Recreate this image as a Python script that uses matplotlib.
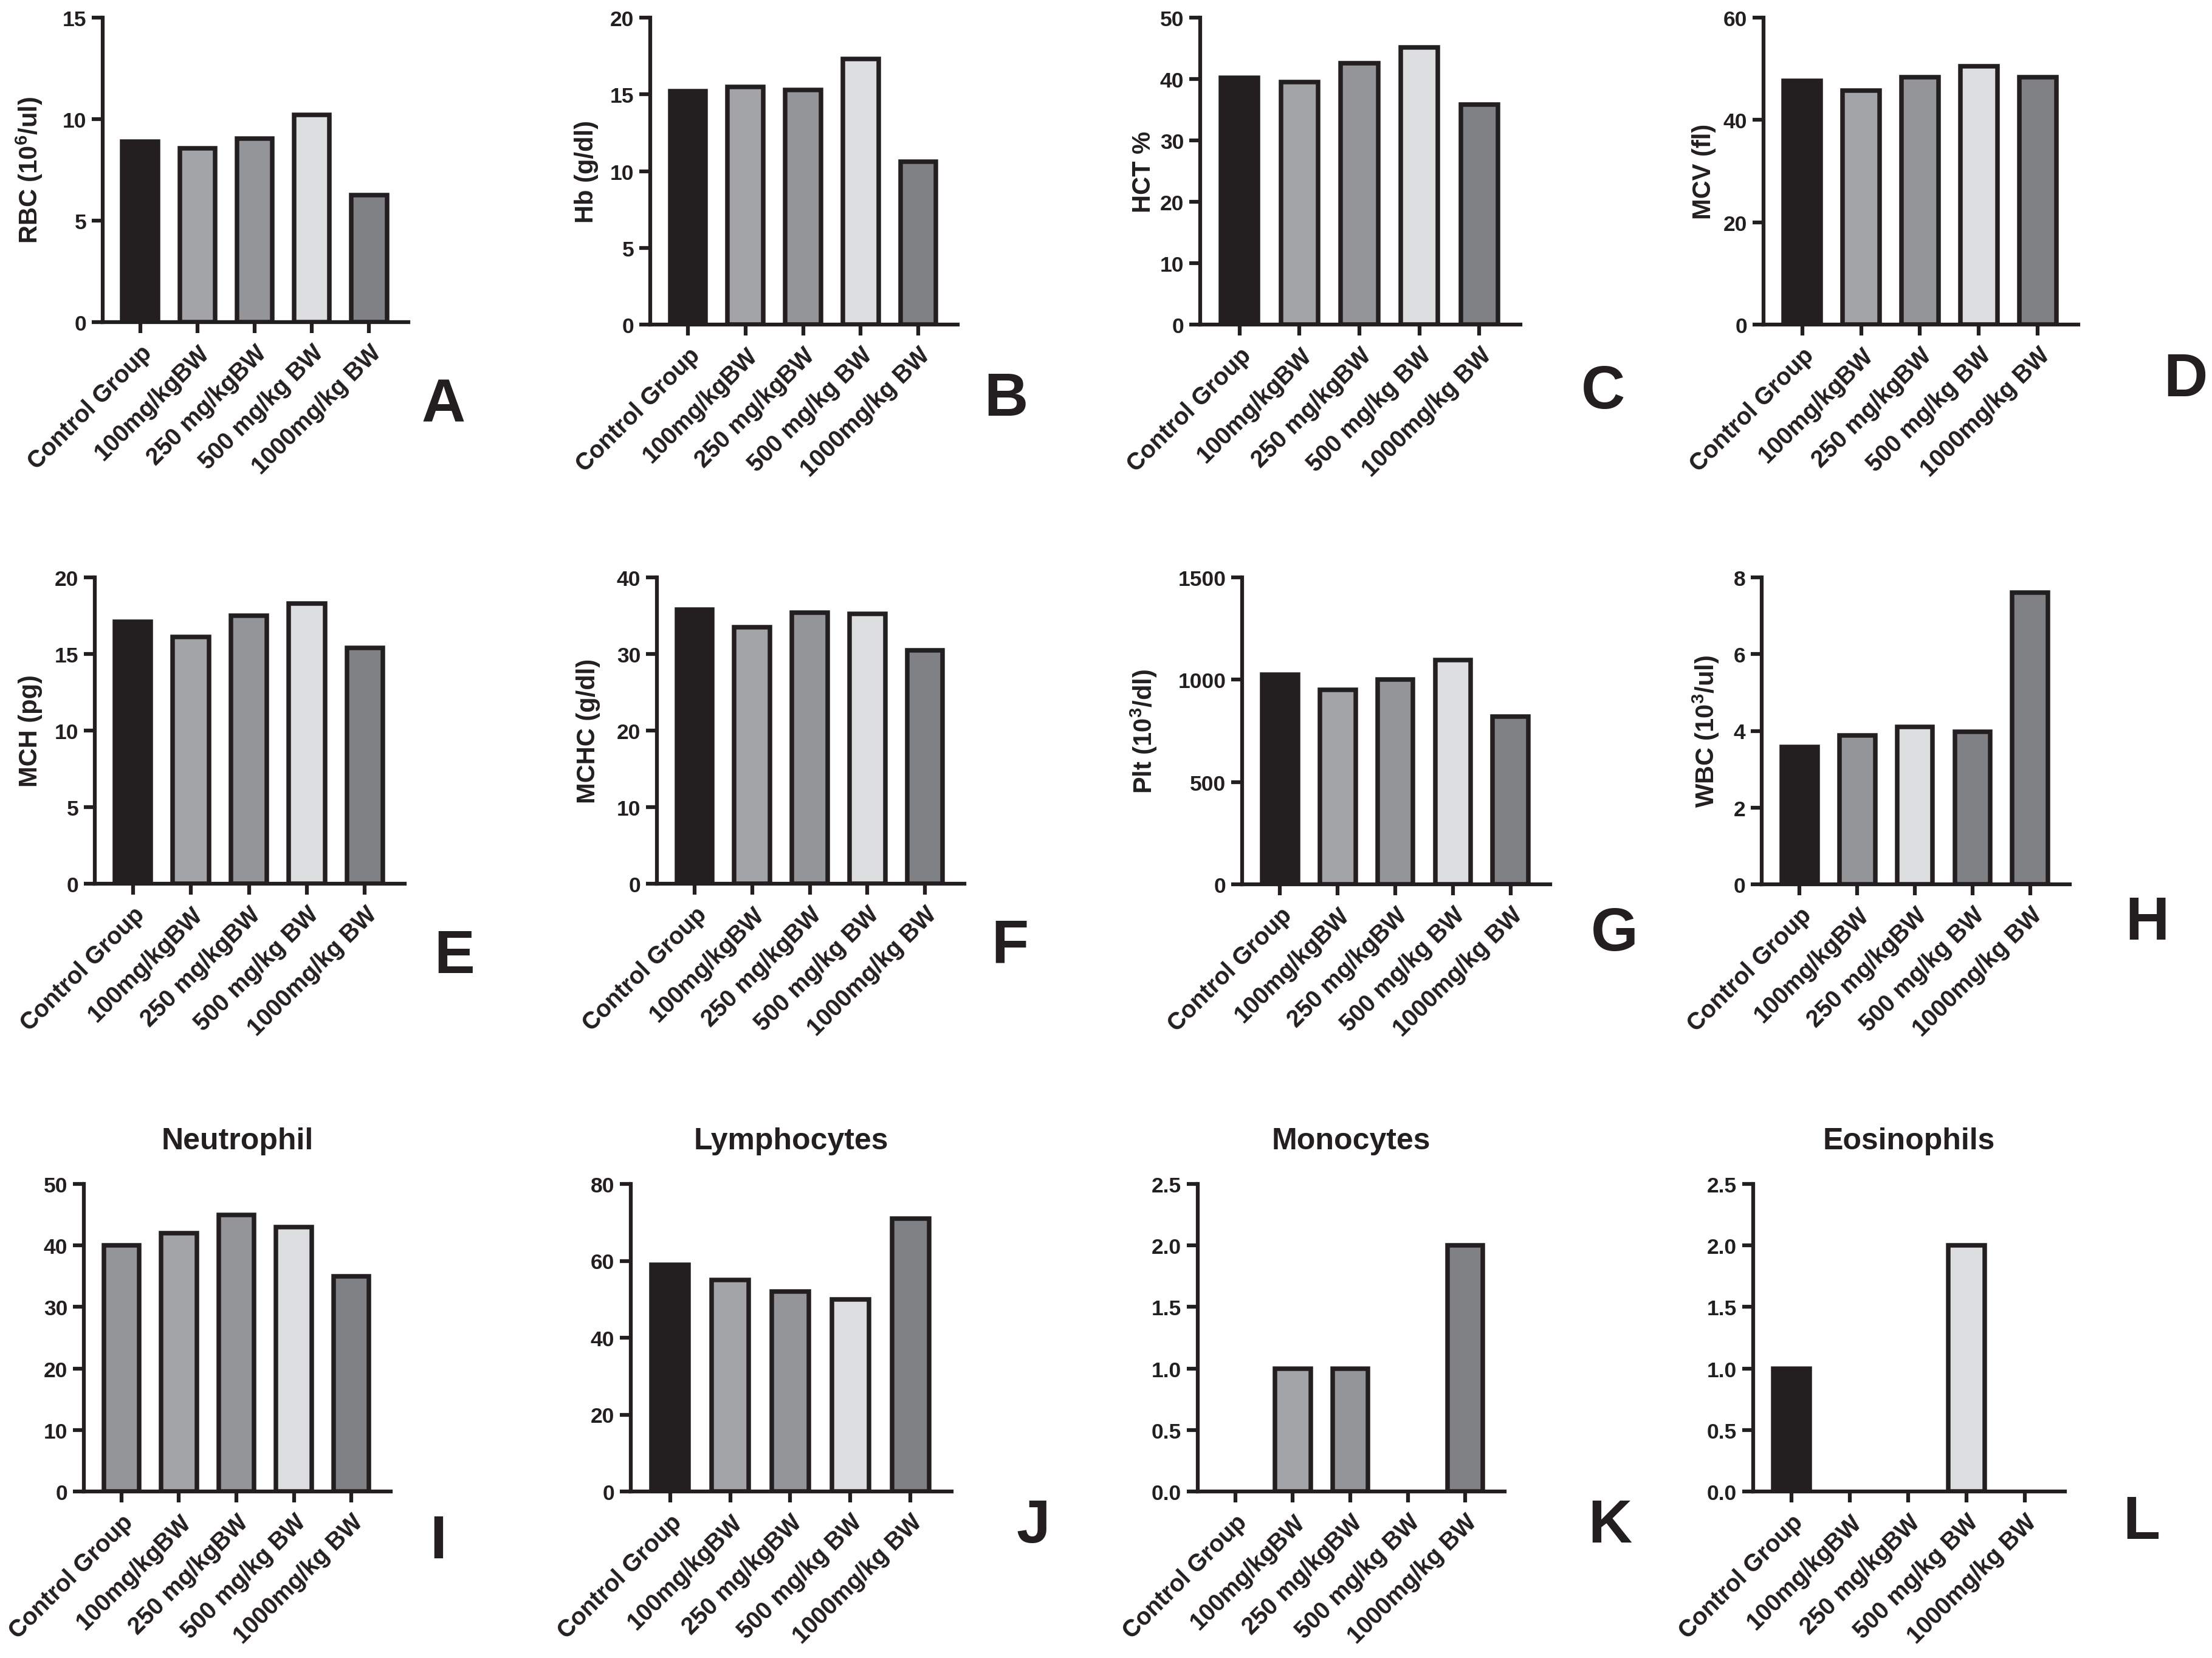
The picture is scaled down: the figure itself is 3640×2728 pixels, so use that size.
import matplotlib.pyplot as plt
from matplotlib.ticker import FormatStrFormatter

plt.rcParams['font.family'] = ['Liberation Sans', 'DejaVu Sans']
plt.rcParams['font.weight'] = 'bold'
plt.rcParams['mathtext.fontset'] = 'custom'
plt.rcParams['mathtext.rm'] = 'Liberation Sans:bold'
plt.rcParams['mathtext.it'] = 'Liberation Sans:bold'
plt.rcParams['mathtext.bf'] = 'Liberation Sans:bold'
plt.rcParams['text.color'] = '#231f20'

# groups (x axis)
groups = ['Control Group', '100mg/kgBW', '250 mg/kgBW', '500 mg/kg BW', '1000mg/kg BW']

# values
rbc = [8.9, 8.55, 9.05, 10.2, 6.25]
hb = [15.2, 15.5, 15.3, 17.3, 10.6]
hct = [40.2, 39.5, 42.6, 45.1, 35.8]
mcv = [47.7, 45.7, 48.3, 50.5, 48.3]
mch = [17.1, 16.1, 17.5, 18.3, 15.4]
mchc = [35.8, 33.5, 35.4, 35.2, 30.5]
plt_count = [1025, 950, 1000, 1095, 820]
wbc = [3.58, 3.88, 4.1, 3.98, 7.6]
neutrophil = [40, 42, 45, 43, 35]
lymphocytes = [59, 55, 52, 50, 71]
monocytes = [0, 1, 1, 0, 2]
eosinophils = [1, 0, 0, 2, 0]

ylabels = ['RBC (10$^6$/ul)', 'Hb (g/dl)', 'HCT %', 'MCV (fl)',
           'MCH (pg)', 'MCHC (g/dl)', 'Plt (10$^3$/dl)', 'WBC (10$^3$/ul)',
           '', '', '', '']
titles = ['', '', '', '', '', '', '', '',
          'Neutrophil', 'Lymphocytes', 'Monocytes', 'Eosinophils']
letters = list('ABCDEFGHIJKL')

# colours
k = '#231f20'
g1 = '#a3a4a7'
g2 = '#939598'
g3 = '#dcdddf'
g4 = '#808184'
std = [k, g1, g2, g3, g4]

W, H = 3640, 2729
fig = plt.figure(figsize=(W / 300, H / 300), dpi=300)

# panel: values, ymax, ystep, colours, axes box (px: left, right, top, bottom), ylabel x, letter pos
panels = [
    (rbc, 15, 5, std, (169, 672, 30, 531), -0.19, (730, 668)),
    (hb, 20, 5, std, (1070, 1576, 30, 535), -0.168, (1655, 658)),
    (hct, 50, 10, std, (1975, 2502, 30, 535), -0.139, (2638, 646)),
    (mcv, 60, 20, std, (2902, 3420, 30, 535), -0.151, (3596, 626)),
    (mch, 20, 5, std, (156, 666, 951, 1455), -0.169, (748, 1575)),
    (mchc, 40, 10, std, (1081, 1587, 951, 1455), -0.184, (1662, 1558)),
    (plt_count, 1500, 500, std, (2044, 2551, 951, 1456), -0.27, (2657, 1538)),
    (wbc, 8, 2, [k, g2, g3, g4, g4], (2899, 3406, 951, 1456), -0.132, (3533, 1520)),
    (neutrophil, 50, 10, [g2, g1, g2, g3, g4], (138, 643, 1949, 2455), 0, (721, 2538)),
    (lymphocytes, 80, 20, std, (1038, 1566, 1949, 2455), 0, (1700, 2512)),
    (monocytes, 2.5, 0.5, std, (1971, 2476, 1949, 2455), 0, (2649, 2512)),
    (eosinophils, 2.5, 0.5, std, (2885, 3398, 1949, 2455), 0, (3524, 2506)),
]

x = list(range(len(groups)))
for i, (vals, ymax, step, cols, box, ylx, lpos) in enumerate(panels):
    l, r, t, b = box
    ax = fig.add_axes([l / W, 1 - b / H, (r - l) / W, (b - t) / H])
    lws = [1.8 if v else 0 for v in vals]  # empty bars show nothing
    ax.bar(x, vals, width=0.62, color=cols, edgecolor=k, linewidth=lws, zorder=3)
    ax.set_xlim(-0.655, 4.686)
    ax.set_ylim(0, ymax)
    n = int(round(ymax / step))
    ax.set_yticks([step * j for j in range(n + 1)])
    if step < 1:
        ax.yaxis.set_major_formatter(FormatStrFormatter('%.1f'))
    ax.set_xticks(x)
    ax.set_xticklabels(groups, rotation=45, ha='right', rotation_mode='anchor')
    for s in ['top', 'right']:
        ax.spines[s].set_visible(False)
    for s in ['left', 'bottom']:
        ax.spines[s].set_linewidth(1.5)
        ax.spines[s].set_color(k)
    ax.tick_params(width=1.5, length=4.4, color=k, labelcolor=k, pad=2)
    ax.tick_params(axis='y', labelsize=8.5)
    ax.tick_params(axis='x', labelsize=9.5, pad=3)
    if ylabels[i]:
        ax.set_ylabel(ylabels[i], fontsize=10, fontweight='bold', color=k)
        ax.yaxis.set_label_coords(ylx, 0.5)
    if titles[i]:
        ax.set_title(titles[i], fontsize=12, fontweight='bold', color=k, pad=14)
    fig.text(lpos[0] / W, 1 - lpos[1] / H, letters[i], fontsize=24,
             fontweight='bold', ha='center', va='center', color=k)

fig.savefig('out.png', dpi=300)
